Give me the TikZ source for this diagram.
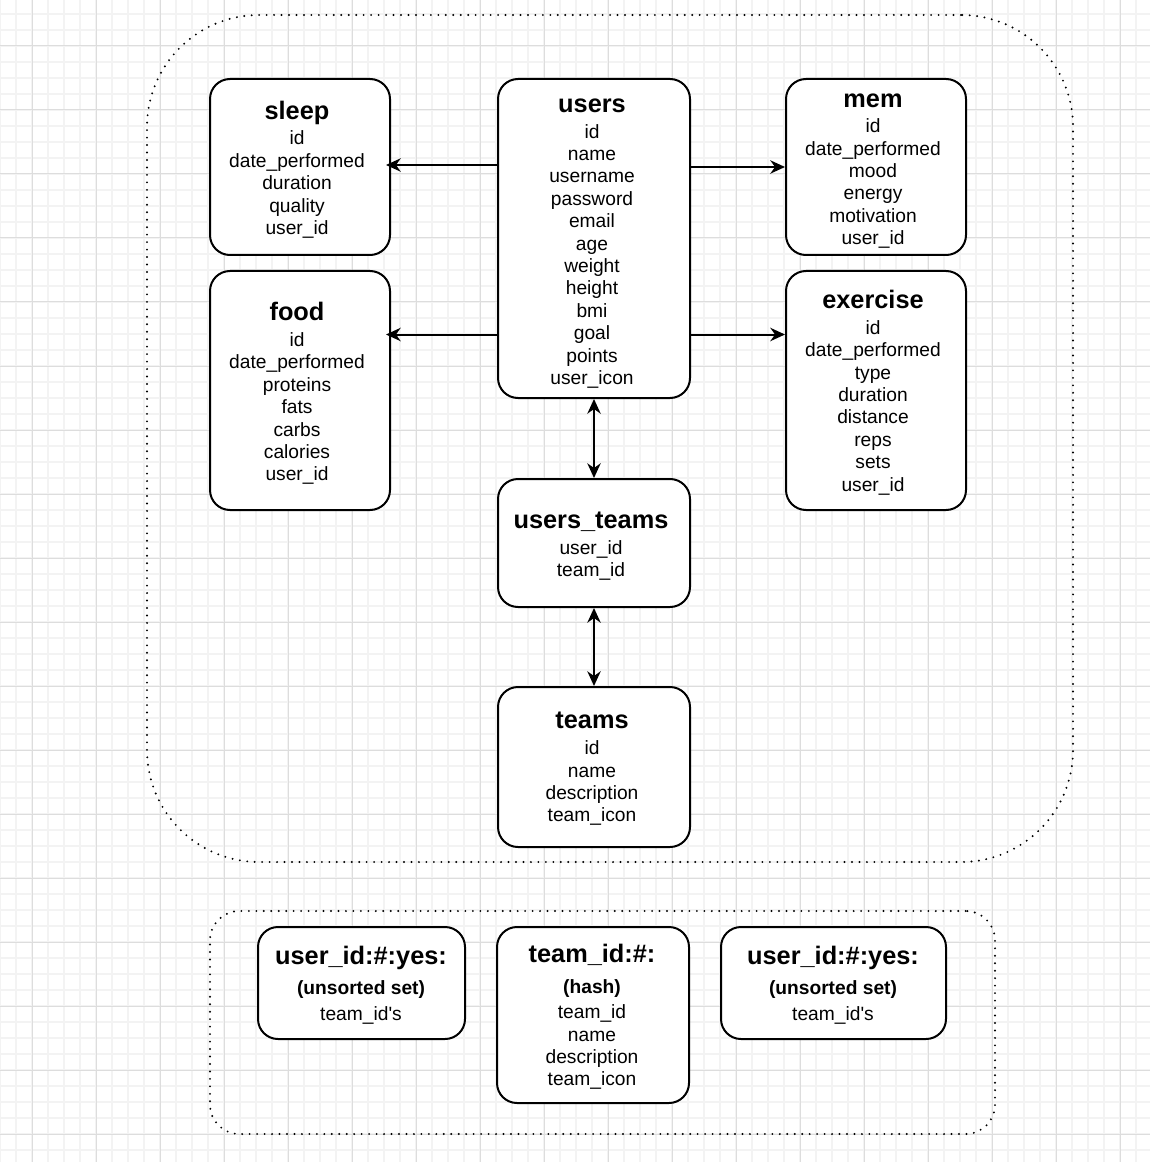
\documentclass[tikz,border=0pt]{standalone}
\usepackage{fontspec}
\setmainfont{Liberation Sans}
\usetikzlibrary{arrows.meta}
\definecolor{gridminor}{HTML}{F3F3F3}
\definecolor{gridmajor}{HTML}{DDDDDD}
\newcommand{\tbltitle}[1]{{\fontsize{19}{22}\selectfont\bfseries #1}}
\newcommand{\tblsub}[1]{{\bfseries #1}}
\tikzset{
  tbl/.style={draw=black, line width=1.5pt, fill=white, rounded corners=15pt, inner sep=0pt},
  tbltext/.style={align=center, inner sep=0pt, font=\fontsize{14.4}{16.8}\selectfont},
  container/.style={draw=black, line width=1.6pt, line cap=round,
    dash pattern=on 0pt off 5.6pt, inner sep=0pt},
  tip/.tip={Stealth[length=11pt,width=10pt,inset=3.5pt]},
  conn/.style={line width=1.5pt, -tip},
  bconn/.style={line width=1.5pt, tip-tip},
}
\begin{document}
\begin{tikzpicture}[x=0.75pt,y=-0.75pt]
\useasboundingbox (0,0) rectangle (1150,1162);
\fill[white] (0,0) rectangle (1150,1162);
% background grid
\foreach \gx in {0,16,...,1150} \draw[gridminor, line width=0.9pt] (\gx,0) -- (\gx,1162);
\foreach \gy in {14,30,...,1162} \draw[gridminor, line width=0.9pt] (0,\gy) -- (1150,\gy);
\foreach \gx in {32,96,...,1150} \draw[gridmajor, line width=0.75pt] (\gx,0) -- (\gx,1162);
\foreach \gy in {46,110,...,1162} \draw[gridmajor, line width=0.75pt] (0,\gy) -- (1150,\gy);

% containers
\node[container, rounded corners=84pt, minimum width=694.5pt, minimum height=635.25pt] (outer) at (610,438.5) {};
\node[container, rounded corners=22pt, minimum width=588.75pt, minimum height=167.25pt] (lower) at (602.5,1022.5) {};

% tables (boxes)
\node[tbl, minimum width=135pt, minimum height=132pt] (sleep) at (300,167) {};
\node[tbl, minimum width=135pt, minimum height=179.25pt] (food) at (300,390.5) {};
\node[tbl, minimum width=144pt, minimum height=239.25pt] (users) at (594,238.5) {};
\node[tbl, minimum width=135pt, minimum height=132pt] (mem) at (876,167) {};
\node[tbl, minimum width=135pt, minimum height=179.25pt] (exercise) at (876,390.5) {};
\node[tbl, minimum width=144pt, minimum height=96pt] (usersteams) at (594,543) {};
\node[tbl, minimum width=144pt, minimum height=120pt] (teams) at (594,767) {};
\node[tbl, minimum width=155.25pt, minimum height=84pt] (setleft) at (361.5,983) {};
\node[tbl, minimum width=144pt, minimum height=132pt] (hash) at (593,1015) {};
\node[tbl, minimum width=168.75pt, minimum height=84pt] (setright) at (833.5,983) {};

% table texts
\node[tbltext] (sleep-t) at (297,169.5)
  {\tbltitle{sleep}\\[2.5pt] id\\ date\_performed\\ duration\\ quality\\ user\_id};
\node[tbltext] (food-t) at (297,393.5)
  {\tbltitle{food}\\[2.5pt] id\\ date\_performed\\ proteins\\ fats\\ carbs\\ calories\\ user\_id};
\node[tbltext] (users-t) at (592,243.5)
  {\tbltitle{users}\\[2.5pt] id\\ name\\ username\\ password\\ email\\ age\\ weight\\ height\\ bmi\\ goal\\ points\\ user\_icon};
\node[tbltext] (mem-t) at (873,171)
  {\tbltitle{mem}\\[2.5pt] id\\ date\_performed\\ mood\\ energy\\ motivation\\ user\_id};
\node[tbltext] (exercise-t) at (873,392.5)
  {\tbltitle{exercise}\\[2.5pt] id\\ date\_performed\\ type\\ duration\\ distance\\ reps\\ sets\\ user\_id};
\node[tbltext] (usersteams-t) at (591,546)
  {\tbltitle{users\_teams}\\[2.5pt] user\_id\\ team\_id};
\node[tbltext] (teams-t) at (592,769)
  {\tbltitle{teams}\\[2.5pt] id\\ name\\ description\\ team\_icon};
\node[tbltext] (setleft-t) at (361,985)
  {\tbltitle{user\_id:\#:yes:}\\[6pt] \tblsub{(unsorted set)}\\[2.5pt] team\_id\textquotesingle s};
\node[tbltext] (hash-t) at (592,1017)
  {\tbltitle{team\_id:\#:}\\[6pt] \tblsub{(hash)}\\[2.5pt] team\_id\\ name\\ description\\ team\_icon};
\node[tbltext] (setright-t) at (833,985)
  {\tbltitle{user\_id:\#:yes:}\\[6pt] \tblsub{(unsorted set)}\\[2.5pt] team\_id\textquotesingle s};

% connectors
\coordinate (lowrow) at (0,334.5);
\draw[conn] (users.west |- 0,165) -- ([xshift=-3.75pt]sleep.east |- 0,165);
\draw[conn] (users.east |- mem.west) -- (mem.west);
\draw[conn] (users.west |- lowrow) -- ([xshift=-3.75pt]food.east |- lowrow);
\draw[conn] (users.east |- lowrow) -- (exercise.west |- lowrow);
\draw[bconn] (users.south) -- (usersteams.north);
\draw[bconn] (usersteams.south) -- (teams.north);
\end{tikzpicture}
\end{document}
